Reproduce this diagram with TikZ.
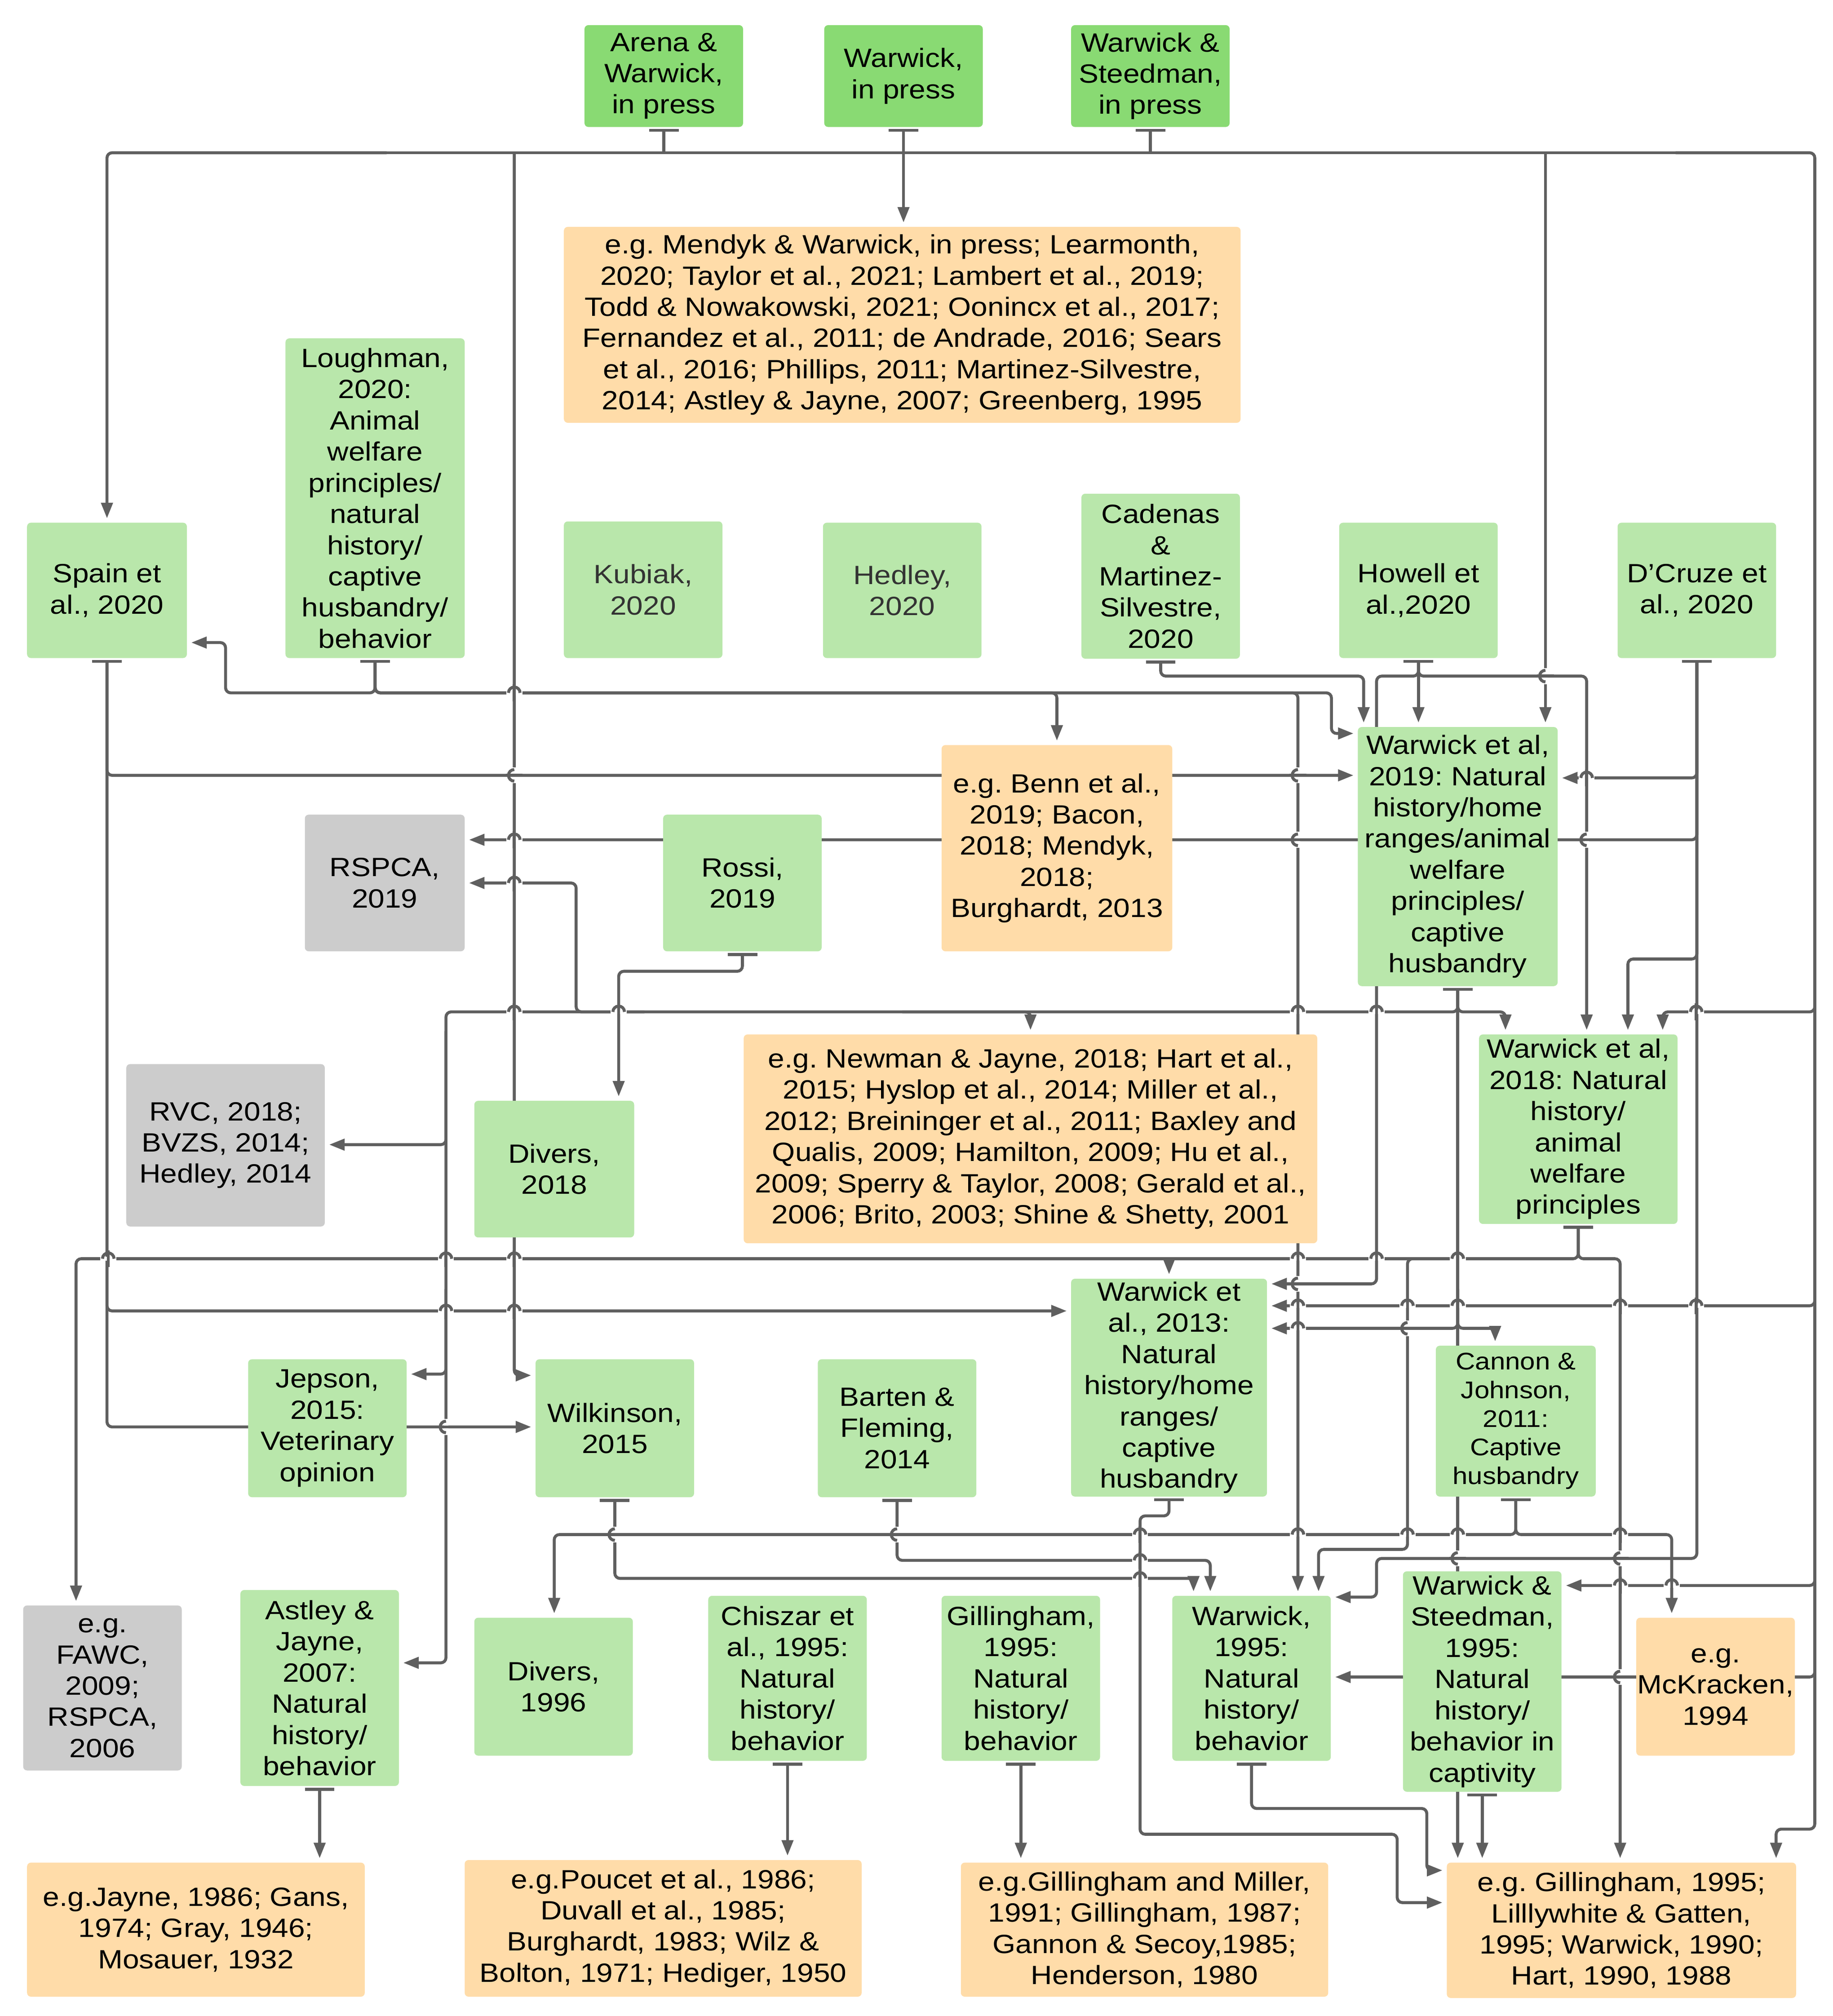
\documentclass[tikz,border=0pt]{standalone}
\usepackage{fontspec}
\setmainfont{Liberation Sans}[FakeStretch=1.12]
\usetikzlibrary{arrows.meta}
\definecolor{topg}{RGB}{137,218,115}
\definecolor{lg}{RGB}{185,231,171}
\definecolor{org}{RGB}{255,220,169}
\definecolor{gry}{RGB}{204,204,204}
\definecolor{lc}{RGB}{95,95,95}
\pgfdeclarelayer{lines}
\pgfsetlayers{lines,main}
\tikzset{
  box/.style={rectangle, rounded corners=3pt, inner sep=0pt, align=center, text=black,
    font=\fontsize{20.5pt}{24.2pt}\selectfont},
  tg/.style={box, fill=topg},
  gn/.style={box, fill=lg},
  og/.style={box, fill=org},
  gy/.style={box, fill=gry},
  sz/.style 2 args={minimum width=#1pt, minimum height=#2pt},
  ln/.style={draw=lc, line width=2.3pt, rounded corners=4pt},
  arr/.style={ln, -{Triangle[length=12pt,width=8.8pt]}, shorten >=3.2pt},
  src/.style={ln, {Bar[width=23pt]}-{Triangle[length=12pt,width=8.8pt]}, shorten <=1.2pt, shorten >=3.2pt},
  srcn/.style={ln, {Bar[width=23pt]}-, shorten <=1.2pt},
  hopl/.style={draw=lc, line width=2.3pt}
}
% horizontal line hops over a vertical one
\newcommand\hh[2]{%
  \fill[white] (#1-6.2,#2-1.7) rectangle (#1+6.2,#2+1.7);
  \draw[hopl] (#1,#2-6.5) -- (#1,#2+6.5);
  \draw[hopl] (#1-4.5,#2) arc[start angle=180,end angle=360,radius=4.5];}
% vertical line hops over a horizontal one
\newcommand\hv[2]{%
  \fill[white] (#1-1.7,#2-6.2) rectangle (#1+1.7,#2+6.2);
  \draw[hopl] (#1-6.5,#2) -- (#1+6.5,#2);
  \draw[hopl] (#1,#2-4.5) arc[start angle=270,end angle=90,radius=4.5];}
\begin{document}
\frenchspacing
\begin{tikzpicture}[x=1pt,y=-1pt]
\useasboundingbox (0,0) rectangle (1422,1564);
% ---------- nodes ----------
\node[tg,sz={123}{79}] (a1) at (515,59) {Arena \&\\Warwick,\\in press};
\node[tg,sz={123}{79}] (a2) at (701,59) {Warwick,\\in press};
\node[tg,sz={123}{79}] (a3) at (892.5,59) {Warwick \&\\Steedman,\\in press};
\node[og,sz={525}{152}] (o1) at (700,252) {e.g. Mendyk \& Warwick, in press; Learmonth,\\2020; Taylor et al., 2021; Lambert et al., 2019;\\Todd \& Nowakowski, 2021; Oonincx et al., 2017;\\Fernandez et al., 2011; de Andrade, 2016; Sears\\et al., 2016; Phillips, 2011; Martinez-Silvestre,\\2014; Astley \& Jayne, 2007; Greenberg, 1995};
\node[gn,sz={139}{248}] (lough) at (291,386.5) {Loughman,\\2020:\\Animal\\welfare\\principles/\\natural\\history/\\captive\\husbandry/\\behavior};
\node[gn,sz={124}{105}] (spain) at (83,458) {Spain et\\al., 2020};
\node[gn,sz={123}{106},text=black!80] (kub) at (499,457.5) {Kubiak,\\2020};
\node[gn,sz={123}{105},text=black!80] (hed) at (700,458) {Hedley,\\2020};
\node[gn,sz={123}{128}] (cad) at (900.5,447) {Cadenas\\\&\\Martinez-\\Silvestre,\\2020};
\node[gn,sz={123}{105}] (how) at (1100.5,458) {Howell et\\al.,2020};
\node[gn,sz={123}{105}] (dcr) at (1316.5,458) {D’Cruze et\\al., 2020};
\node[og,sz={179}{160}] (o2) at (820,658) {e.g. Benn et al.,\\2019; Bacon,\\2018; Mendyk,\\2018;\\Burghardt, 2013};
\node[gn,sz={155}{201}] (w2019) at (1131,664.5) {Warwick et al,\\2019: Natural\\history/home\\ranges/animal\\welfare\\principles/\\captive\\husbandry};
\node[gy,sz={124}{106}] (rspca) at (298.5,685) {RSPCA,\\2019};
\node[gn,sz={123}{106}] (rossi) at (576,685) {Rossi,\\2019};
\node[gy,sz={154}{126}] (rvc) at (175,888.5) {RVC, 2018;\\BVZS, 2014;\\Hedley, 2014};
\node[gn,sz={124}{106}] (div18) at (430,907) {Divers,\\2018};
\node[og,sz={445}{162}] (o3) at (799.5,883.5) {e.g. Newman \& Jayne, 2018; Hart et al.,\\2015; Hyslop et al., 2014; Miller et al.,\\2012; Breininger et al., 2011; Baxley and\\Qualis, 2009; Hamilton, 2009; Hu et al.,\\2009; Sperry \& Taylor, 2008; Gerald et al.,\\2006; Brito, 2003; Shine \& Shetty, 2001};
\node[gn,sz={154}{147}] (w2018) at (1224.5,876) {Warwick et al,\\2018: Natural\\history/\\animal\\welfare\\principles};
\node[gn,sz={152}{169}] (w2013) at (907,1076.5) {Warwick et\\al., 2013:\\Natural\\history/home\\ranges/\\captive\\husbandry};
\node[gn,sz={123}{107}] (jep) at (254,1108) {Jepson,\\2015:\\Veterinary\\opinion};
\node[gn,sz={123}{107}] (wilk) at (477,1108) {Wilkinson,\\2015};
\node[gn,sz={123}{107}] (barten) at (696,1108) {Barten \&\\Fleming,\\2014};
\node[gn,sz={124}{117},font=\fontsize{18.7pt}{22.2pt}\selectfont] (cannon) at (1176,1102.5) {Cannon \&\\Johnson,\\2011:\\Captive\\husbandry};
\node[gy,sz={123}{128}] (fawc) at (79.5,1309.5) {e.g.\\FAWC,\\2009;\\RSPCA,\\2006};
\node[gn,sz={123}{152}] (astley) at (248,1309.5) {Astley \&\\Jayne,\\2007:\\Natural\\history/\\behavior};
\node[gn,sz={123}{107}] (div96) at (429.5,1308.5) {Divers,\\1996};
\node[gn,sz={123}{128}] (chiszar) at (611,1302) {Chiszar et\\al., 1995:\\Natural\\history/\\behavior};
\node[gn,sz={123}{128}] (gill) at (792,1302) {Gillingham,\\1995:\\Natural\\history/\\behavior};
\node[gn,sz={123}{128}] (w1995) at (971,1302) {Warwick,\\1995:\\Natural\\history/\\behavior};
\node[gn,sz={123}{171}] (ws) at (1150,1304.5) {Warwick \&\\Steedman,\\1995:\\Natural\\history/\\behavior in\\captivity};
\node[og,sz={123}{107}] (mck) at (1331,1308.5) {e.g.\\McKracken,\\1994};
\node[og,sz={262}{104}] (b1) at (152,1497) {e.g.Jayne, 1986; Gans,\\1974; Gray, 1946;\\Mosauer, 1932};
\node[og,sz={308}{106}] (b2) at (514.5,1496) {e.g.Poucet et al., 1986;\\Duvall et al., 1985;\\Burghardt, 1983; Wilz \&\\Bolton, 1971; Hediger, 1950};
\node[og,sz={285}{104}] (b3) at (888,1497) {e.g.Gillingham and Miller,\\1991; Gillingham, 1987;\\Gannon \& Secoy,1985;\\Henderson, 1980};
\node[og,sz={271}{105}] (b4) at (1258,1497.5) {e.g. Gillingham, 1995;\\Lilllywhite \& Gatten,\\1995; Warwick, 1990;\\Hart, 1990, 1988};
% ---------- connectors ----------
\begin{pgfonlayer}{lines}
\fill[white] (0,0) rectangle (1422,1564);
% top sources and bus
\draw[srcn] (a1.south) -- (a1.south |- 0,118.5);
\draw[srcn] (a3.south) -- (a3.south |- 0,118.5);
\draw[src] (a2.south) -- (o1.north -| a2.south);
\draw[arr] (300,118.5) -- (spain.north |- 0,118.5) -- (spain.north);
\draw[ln] (200,118.5) -- (1300,118.5);
\draw[arr] (399,118.5) -- (399,1067) -- (wilk.west |- 0,1067);
\draw[arr] (1199,118.5) -- (w2019.north -| 1199,0);
\draw[arr] (1300,118.5) -- (1408,118.5) -- (1408,785) -- (1290,785) -- (w2018.north -| 1290,0);
\draw[arr] (1408,700) -- (1408,1013) -- (w2013.east |- 0,1013);
\draw[arr] (1408,1000) -- (1408,1230) -- (ws.east |- 0,1230);
\draw[arr] (1408,1200) -- (1408,1301) -- (w1995.east |- 0,1301);
\draw[arr] (1408,1290) -- (1408,1419) -- (1378,1419) -- (b4.north -| 1378,0);
% Spain
\draw[src] (spain.south) -- (spain.south |- 0,601.5) -- (w2019.west |- 0,601.5);
\draw[src] (spain.south) -- (spain.south |- 0,1017) -- (w2013.west |- 0,1017);
\draw[src] (spain.south) -- (spain.south |- 0,1107) -- (wilk.west |- 0,1107);
% Loughman
\draw[src] (lough.south) -- (lough.south |- 0,537.5) -- (175,537.5) -- (175,498.5) -- (spain.east |- 0,498.5);
\draw[src] (lough.south) -- (lough.south |- 0,537.5) -- (o2.north |- 0,537.5) -- (o2.north);
\draw[src] (lough.south) -- (lough.south |- 0,537.5) -- (1007,537.5) -- (w1995.north -| 1007,0);
\draw[src] (lough.south) -- (lough.south |- 0,537.5) -- (1033,537.5) -- (1033,569) -- (w2019.west |- 0,569);
% Cadenas
\draw[src] (cad.south) -- (cad.south |- 0,524.5) -- (1058,524.5) -- (w2019.north -| 1058,0);
% Howell
\draw[src] (how.south) -- (w2019.north -| how.south);
\draw[src] (how.south) -- (how.south |- 0,524.5) -- (1068,524.5) -- (1068,996) -- (w2013.east |- 0,996);
\draw[src] (how.south) -- (how.south |- 0,524.5) -- (1231,524.5) -- (w2018.north -| 1231,0);
% D'Cruze
\draw[src] (dcr.south) -- (dcr.south |- 0,603.5) -- (w2019.east |- 0,603.5);
\draw[src] (dcr.south) -- (dcr.south |- 0,651.5) -- (rspca.east |- 0,651.5);
\draw[src] (dcr.south) -- (dcr.south |- 0,744) -- (1263,744) -- (w2018.north -| 1263,0);
\draw[src] (dcr.south) -- (dcr.south |- 0,1209) -- (1068,1209) -- (1068,1239) -- (w1995.east |- 0,1239);
% W2019
\draw[src] (w2019.south) -- (b4.north -| w2019.south);
\draw[src] (w2019.south) -- (w2019.south |- 0,785) -- (1168,785) -- (w2018.north -| 1168,0);
\draw[src] (w2019.south) -- (w2019.south |- 0,785) -- (346,785) -- (346,888) -- (rvc.east |- 0,888);
\draw[arr] (346,800) -- (346,1066) -- (jep.east |- 0,1066);
\draw[arr] (346,1000) -- (346,1290) -- (astley.east |- 0,1290);
\draw[arr] (500,785) -- (447,785) -- (447,685) -- (rspca.east |- 0,685);
\draw[arr] (700,785) -- (o3.north |- 0,785) -- (o3.north);
\draw[arr] (1131,1000) -- (1131,1030.5) -- (w2013.east |- 0,1030.5);
\draw[arr] (1131,1000) -- (1131,1030.5) -- (1160,1030.5) -- (cannon.north -| 1160,0);
% Rossi
\draw[src] (rossi.south) -- (rossi.south |- 0,753.5) -- (480,753.5) -- (div18.north -| 480,0);
% W2018
\draw[src] (w2018.south) -- (w2018.south |- 0,976.5) -- (59,976.5) -- (fawc.north -| 59,0);
\draw[arr] (950,976.5) -- (w2013.north |- 0,976.5) -- (w2013.north);
\draw[arr] (1150,976.5) -- (1092,976.5) -- (1092,1202) -- (1023,1202) -- (w1995.north -| 1023,0);
\draw[src] (w2018.south) -- (w2018.south |- 0,976.5) -- (1257,976.5) -- (b4.north -| 1257,0);
% W2013
\draw[src] (w2013.south) -- (w2013.south |- 0,1176) -- (884.5,1176) -- (884.5,1423) -- (1084,1423) -- (1084,1476) -- (b4.west |- 0,1476);
% Cannon
\draw[src] (cannon.south) -- (cannon.south |- 0,1190.5) -- (430,1190.5) -- (div96.north -| 430,0);
\draw[src] (cannon.south) -- (cannon.south |- 0,1190.5) -- (1297,1190.5) -- (mck.north -| 1297,0);
% Wilkinson, Barten
\draw[src] (wilk.south) -- (wilk.south |- 0,1224.5) -- (926,1224.5) -- (w1995.north -| 926,0);
\draw[src] (barten.south) -- (barten.south |- 0,1210.5) -- (939,1210.5) -- (w1995.north -| 939,0);
% W&S, Warwick 1995
\draw[src] (ws.south) -- (b4.north -| ws.south);
\draw[src] (w1995.south) -- (w1995.south |- 0,1403) -- (1107,1403) -- (1107,1451) -- (b4.west |- 0,1451);
% bottom row
\draw[src] (astley.south) -- (b1.north -| astley.south);
\draw[src] (chiszar.south) -- (b2.north -| chiszar.south);
\draw[src] (gill.south) -- (b3.north -| gill.south);
% ---------- line hops ----------
\hh{84}{976.5}
\hh{399}{537.5} \hv{399}{601.5} \hh{399}{651.5} \hh{399}{685}
\hh{399}{785} \hh{399}{976.5} \hh{399}{1017}
\hh{346}{976.5} \hh{346}{1017} \hv{346}{1107}
\hh{480}{785}
\hv{1007}{601.5} \hv{1007}{651.5}
\hh{1007}{785} \hh{1007}{976.5} \hv{1007}{996} \hh{1007}{1013} \hh{1007}{1030.5} \hh{1007}{1190.5}
\hv{1199}{524.5}
\hh{1068}{785} \hh{1068}{976.5}
\hh{1231}{603.5} \hv{1231}{651.5}
\hh{1316}{785} \hh{1316}{1013}
\hh{1131}{976.5} \hh{1131}{1013} \hh{1131}{1190.5} \hv{1131}{1209}
\hh{1092}{1013} \hv{1092}{1030.5} \hh{1092}{1190.5}
\hh{1257}{1013} \hh{1257}{1190.5} \hv{1257}{1209} \hh{1257}{1230} \hv{1257}{1301}
\hh{884.5}{1190.5} \hh{884.5}{1210.5} \hh{884.5}{1224.5}
\hv{477}{1190.5} \hv{696}{1190.5}
\hh{1297}{1230}
\end{pgfonlayer}
\end{tikzpicture}
\end{document}
